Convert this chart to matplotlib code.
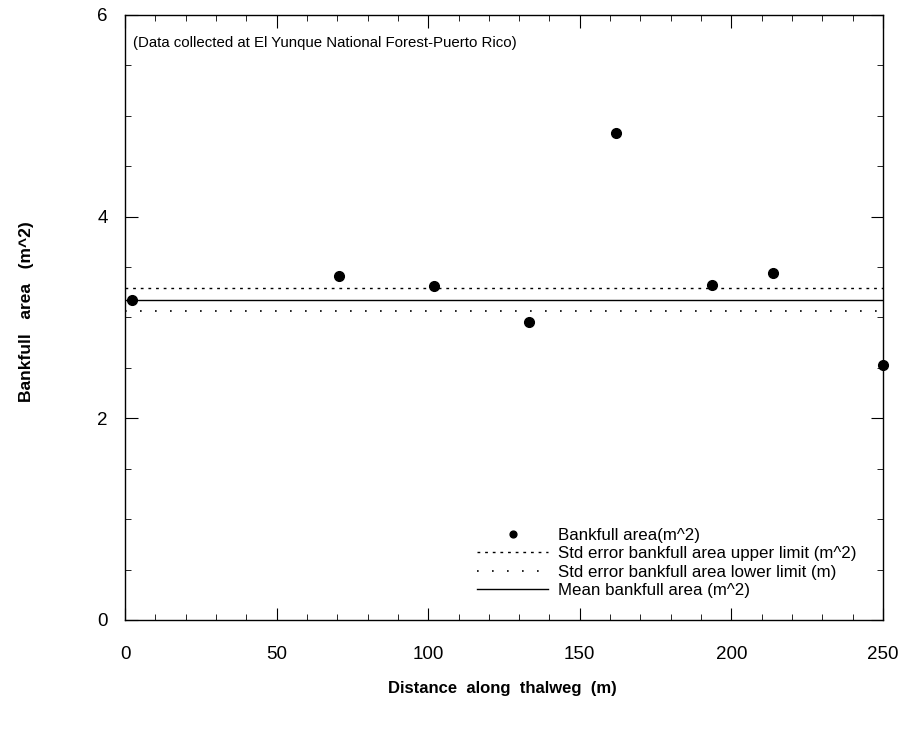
import numpy as np
import matplotlib.pyplot as plt
from matplotlib.ticker import MultipleLocator

plt.rcParams['font.family'] = ['Liberation Sans', 'DejaVu Sans']

# Bankfull area survey points
distance = [2.3, 70.6, 101.9, 133.2, 161.9, 193.6, 213.7, 250.0]
area = [3.17, 3.41, 3.31, 2.96, 4.83, 3.32, 3.44, 2.53]

# Summary statistics (horizontal reference lines)
mean_area = 3.17
upper_limit = 3.29
lower_limit = 3.06
x_span = [0, 250]


def main():
    fig = plt.figure(figsize=(9.06, 7.3), dpi=100)
    ax = fig.add_axes([0.138, 0.1507, 0.8366, 0.8288])

    ax.plot(distance, area, 'o', color='black', markersize=7,
            label="Bankfull area(m^2)", clip_on=False, zorder=5)
    ax.plot(x_span, [upper_limit] * 2, color='black', lw=1.0,
            linestyle=(0, (2, 3.5)),
            label="Std error bankfull area upper limit (m^2)")
    ax.plot(x_span, [lower_limit] * 2, color='black', lw=1.2,
            linestyle=(0, (1, 8)),
            label="Std error bankfull area lower limit (m)")
    ax.plot(x_span, [mean_area] * 2, color='black', lw=1.0,
            label="Mean bankfull area (m^2)")

    ax.set_xlim(0, 250)
    ax.set_ylim(0, 6)
    ax.xaxis.set_major_locator(MultipleLocator(50))
    ax.xaxis.set_minor_locator(MultipleLocator(10))
    ax.yaxis.set_major_locator(MultipleLocator(2))
    ax.yaxis.set_minor_locator(MultipleLocator(0.5))
    ax.tick_params(which='both', direction='in', top=True, right=True,
                   labelsize=13.5)
    ax.tick_params(axis='x', pad=19)
    ax.tick_params(axis='y', pad=12.5)
    ax.tick_params(which='major', length=9)
    ax.tick_params(which='minor', length=4.5)
    for sp in ax.spines.values():
        sp.set_linewidth(1.0)

    # axis titles placed in figure pixels of the reference
    fig.text(502 / 906, 1 - 688 / 730, "Distance  along  thalweg  (m)",
             fontsize=12, fontweight='bold', ha='center', va='center')
    fig.text(27 / 906, 1 - 312 / 730, "Bankfull   area   (m^2)",
             fontsize=12.5, fontweight='bold', ha='center', va='center',
             rotation=90)

    fig.text(133 / 906, 1 - 43 / 730,
             "(Data collected at El Yunque National Forest-Puerto Rico)",
             fontsize=10.8, ha='left', va='center')

    ax.legend(loc='upper left', bbox_to_anchor=(477 / 906, 1 - 528 / 730),
              bbox_transform=fig.transFigure, frameon=False,
              fontsize=12.2, handlelength=4.2, labelspacing=0.2,
              handletextpad=0.6, borderpad=0, borderaxespad=0,
              markerscale=0.7)

    fig.savefig("out.png", dpi=100)


if __name__ == "__main__":
    main()
